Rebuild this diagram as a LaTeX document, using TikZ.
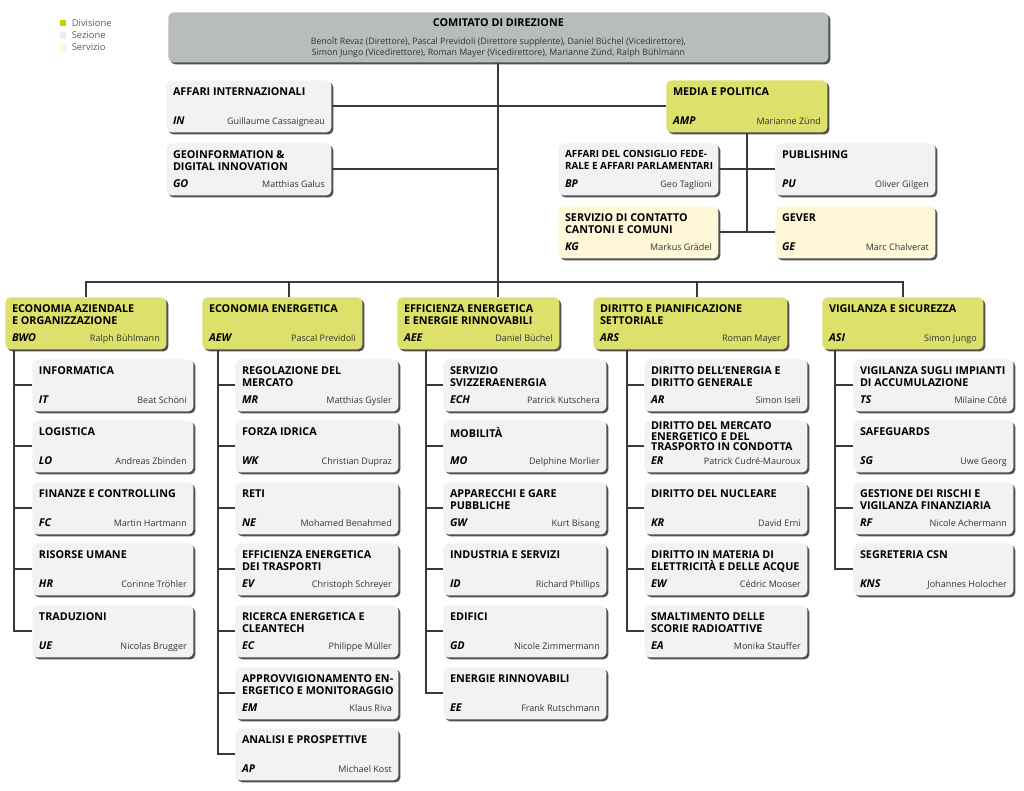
\documentclass[tikz,border=0pt]{standalone}
\usepackage{fontspec}
\setmainfont{Open Sans}
\usetikzlibrary{positioning,shadows}

\definecolor{divyellow}{HTML}{DDE06A}
\definecolor{sezgray}{HTML}{F2F2F2}
\definecolor{servcream}{HTML}{FFF7D8}
\definecolor{cddgray}{HTML}{B8BCBC}
\definecolor{linegray}{HTML}{3A3A3A}
\definecolor{shadowgray}{HTML}{505050}
\definecolor{legyellow}{HTML}{C9D300}
\definecolor{leggray}{HTML}{ECECEC}
\definecolor{legcream}{HTML}{FFF6D4}
\definecolor{legtextgray}{HTML}{5A5A5A}
\definecolor{namegray}{HTML}{333333}

\newcommand{\unittitle}{\fontsize{5.4}{5}\selectfont\bfseries}
\newcommand{\unitabbr}[1]{{\fontsize{5.4}{5}\selectfont\bfseries\itshape #1}}
\newcommand{\unitname}{\fontsize{4.5}{5}\selectfont\mdseries\upshape\color{namegray}}

% box: [top skip] name, style, x, y, text width (pt), title, abbreviation, head
\newcommand{\orgbox}[9][2pt]{%
  \node[#3] (#2) at (#4,#5) {\parbox[c][20.5pt][s]{#6pt}{\unittitle\vskip#1
    \makebox[\linewidth][l]{\parbox[t]{160pt}{\raggedright\baselineskip=6pt #7}}\par\vfill
    \unitabbr{#8}\hfill{\unitname #9}\rule[-2.5pt]{0pt}{0pt}}};}

\tikzset{
  orgunit/.style={rectangle, rounded corners=2.5pt, inner xsep=3.3pt, inner ysep=1.5pt,
    anchor=north west, general shadow={fill=shadowgray, shadow xshift=1pt, shadow yshift=-1pt}},
  divisione/.style={orgunit, fill=divyellow},
  sezione/.style={orgunit, fill=sezgray},
  servizio/.style={orgunit, fill=servcream},
  link/.style={draw=linegray, line width=1pt},
  legsq/.style={rectangle, minimum size=3.4pt, inner sep=0pt},
  legtext/.style={inner sep=0pt, font=\fontsize{4.7}{5}\selectfont, text=legtextgray},
}

\begin{document}
\begin{tikzpicture}[x=0.5pt, y=-0.5pt]
\useasboundingbox (0,0) rectangle (1024,791);

% legend
\node[legsq, fill=legyellow] (legdiv) at (63,23) {};
\node[legsq, fill=leggray, below=2.3pt of legdiv] (legsez) {};
\node[legsq, fill=legcream, below=2.3pt of legsez] (legserv) {};
\node[legtext, right=2.3pt of legdiv] (legdivtxt) {Divisione};
\node[legtext, right=2.3pt of legsez] (legseztxt) {Sezione};
\node[legtext, right=2.3pt of legserv] (legservtxt) {Servizio};

% direzione
\node[orgunit, fill=cddgray] (cdd) at (168,12) {\parbox[c][20pt][s]{323.4pt}{\centering
  \unittitle\vskip1.5pt COMITATO DI DIREZIONE\par\vfill
  \fontsize{4.4}{5.5}\selectfont\mdseries\color{namegray}
  Benoît Revaz (Direttore), Pascal Previdoli (Direttore supplente), Daniel Büchel (Vicedirettore),\\
  Simon Jungo (Vicedirettore), Roman Mayer (Vicedirettore), Marianne Zünd, Ralph Bühlmann\rule[-2pt]{0pt}{0pt}}};

\orgbox{IN}{sezione}{166}{80}{75.9}{AFFARI INTERNAZIONALI}{IN}{Guillaume Cassaigneau}
\orgbox{GO}{sezione}{166}{143}{75.9}{GEOINFORMATION \&\\DIGITAL INNOVATION}{GO}{Matthias Galus}
\orgbox{AMP}{divisione}{666}{80}{73.9}{MEDIA E POLITICA}{AMP}{Marianne Zünd}
\orgbox{BP}{sezione}{558}{143}{73.4}{\fontsize{4.95}{6}\selectfont AFFARI DEL CONSIGLIO FEDE-\\RALE E AFFARI PARLAMENTARI}{BP}{Geo Taglioni}
\orgbox{PU}{sezione}{775}{143}{73.4}{PUBLISHING}{PU}{Oliver Gilgen}
\orgbox{KG}{servizio}{558}{206}{73.4}{SERVIZIO DI CONTATTO\\CANTONI E COMUNI}{KG}{Markus Grädel}
\orgbox{GE}{servizio}{775}{206}{73.4}{GEVER}{GE}{Marc Chalverat}

% divisioni
\orgbox{BWO}{divisione}{5}{297}{73.9}{ECONOMIA AZIENDALE\\E ORGANIZZAZIONE}{BWO}{Ralph Bühlmann}
\orgbox{AEW}{divisione}{202}{297}{73.4}{ECONOMIA ENERGETICA}{AEW}{Pascal Previdoli}
\orgbox{AEE}{divisione}{397}{297}{74.4}{EFFICIENZA ENERGETICA\\E ENERGIE RINNOVABILI}{AEE}{Daniel Büchel}
\orgbox{ARS}{divisione}{593}{297}{90.4}{DIRITTO E PIANIFICAZIONE\\SETTORIALE}{ARS}{Roman Mayer}
\orgbox{ASI}{divisione}{822}{297}{73.9}{VIGILANZA E SICUREZZA}{ASI}{Simon Jungo}

% sezioni BWO
\orgbox{IT}{sezione}{32}{359}{73.9}{INFORMATICA}{IT}{Beat Schöni}
\orgbox{LO}{sezione}{32}{420}{73.9}{LOGISTICA}{LO}{Andreas Zbinden}
\orgbox{FC}{sezione}{32}{482}{73.9}{FINANZE E CONTROLLING}{FC}{Martin Hartmann}
\orgbox{HR}{sezione}{32}{543}{73.9}{RISORSE UMANE}{HR}{Corinne Tröhler}
\orgbox{UE}{sezione}{32}{605}{73.9}{TRADUZIONI}{UE}{Nicolas Brugger}

% sezioni AEW
\orgbox{MR}{sezione}{235}{359}{74.9}{REGOLAZIONE DEL\\MERCATO}{MR}{Matthias Gysler}
\orgbox{WK}{sezione}{235}{420}{74.9}{FORZA IDRICA}{WK}{Christian Dupraz}
\orgbox{NE}{sezione}{235}{482}{74.9}{RETI}{NE}{Mohamed Benahmed}
\orgbox{EV}{sezione}{235}{543}{74.9}{EFFICIENZA ENERGETICA\\DEI TRASPORTI}{EV}{Christoph Schreyer}
\orgbox{EC}{sezione}{235}{605}{74.9}{RICERCA ENERGETICA E\\CLEANTECH}{EC}{Philippe Müller}
\orgbox{EM}{sezione}{235}{667}{74.9}{APPROVVIGIONAMENTO EN-\\ERGETICO E MONITORAGGIO}{EM}{Klaus Riva}
\orgbox{AP}{sezione}{235}{728}{74.9}{ANALISI E PROSPETTIVE}{AP}{Michael Kost}

% sezioni AEE
\orgbox{ECH}{sezione}{443}{359}{74.9}{SERVIZIO\\SVIZZERAENERGIA}{ECH}{Patrick Kutschera}
\orgbox{MO}{sezione}{443}{420}{74.9}{MOBILITÀ}{MO}{Delphine Morlier}
\orgbox{GW}{sezione}{443}{482}{74.9}{APPARECCHI E GARE\\PUBBLICHE}{GW}{Kurt Bisang}
\orgbox{ID}{sezione}{443}{543}{74.9}{INDUSTRIA E SERVIZI}{ID}{Richard Phillips}
\orgbox{GD}{sezione}{443}{605}{74.9}{EDIFICI}{GD}{Nicole Zimmermann}
\orgbox{EE}{sezione}{443}{667}{74.9}{ENERGIE RINNOVABILI}{EE}{Frank Rutschmann}

% sezioni ARS
\orgbox{AR}{sezione}{644}{359}{74.9}{DIRITTO DELL’ENERGIA E\\DIRITTO GENERALE}{AR}{Simon Iseli}
\orgbox[-0.8pt]{ER}{sezione}{644}{420}{74.9}{\baselineskip=5.3pt DIRITTO DEL MERCATO\\ENERGETICO E DEL\\TRASPORTO IN CONDOTTA}{ER}{Patrick Cudré-Mauroux}
\orgbox{KR}{sezione}{644}{482}{74.9}{DIRITTO DEL NUCLEARE}{KR}{David Erni}
\orgbox{EW}{sezione}{644}{543}{74.9}{DIRITTO IN MATERIA DI\\ELETTRICITÀ E DELLE ACQUE}{EW}{Cédric Mooser}
\orgbox{EA}{sezione}{644}{605}{74.9}{SMALTIMENTO DELLE\\SCORIE RADIOATTIVE}{EA}{Monika Stauffer}

% sezioni ASI
\orgbox{TS}{sezione}{853}{359}{73.4}{VIGILANZA SUGLI IMPIANTI\\DI ACCUMULAZIONE}{TS}{Milaine Côté}
\orgbox{SG}{sezione}{853}{420}{73.4}{SAFEGUARDS}{SG}{Uwe Georg}
\orgbox{RF}{sezione}{853}{482}{73.4}{GESTIONE DEI RISCHI E\\VIGILANZA FINANZIARIA}{RF}{Nicole Achermann}
\orgbox{KNS}{sezione}{853}{543}{73.4}{SEGRETERIA CSN}{KNS}{Johannes Holocher}

% connectors
\coordinate (bus) at (498,282);
\draw[link] (cdd.south) -- (cdd.south |- AEE.north);
\draw[link] (IN.east) -- (IN.east -| cdd.south);
\draw[link] (GO.east) -- (GO.east -| cdd.south);
\draw[link] (AMP.west) -- (AMP.west -| cdd.south);
\draw[link] (AMP.south) -- (AMP.south |- KG.east);
\draw[link] (BP.east) -- (PU.west);
\draw[link] (KG.east) -- (GE.west);

\draw[link] (BWO.north) |- (bus) -| (ASI.north);
\coordinate (jAEW) at ([xshift=43.5pt]AEW.north west);
\coordinate (jARS) at ([xshift=52pt]ARS.north west);
\draw[link] (jAEW) -- (jAEW |- bus);
\draw[link] (jARS) -- (jARS |- bus);

\coordinate (sBWO) at ([xshift=4.5pt]BWO.south west);
\coordinate (sAEW) at ([xshift=8pt]AEW.south west);
\coordinate (sAEE) at ([xshift=14.5pt]AEE.south west);
\coordinate (sARS) at ([xshift=17pt]ARS.south west);
\coordinate (sASI) at ([xshift=6.5pt]ASI.south west);

\draw[link] (sBWO) |- (UE.west);
\foreach \s in {IT,LO,FC,HR} \draw[link] (\s.west) -- (\s.west -| sBWO);
\draw[link] (sAEW) |- (AP.west);
\foreach \s in {MR,WK,NE,EV,EC,EM} \draw[link] (\s.west) -- (\s.west -| sAEW);
\draw[link] (sAEE) |- (EE.west);
\foreach \s in {ECH,MO,GW,ID,GD} \draw[link] (\s.west) -- (\s.west -| sAEE);
\draw[link] (sARS) |- (EA.west);
\foreach \s in {AR,ER,KR,EW} \draw[link] (\s.west) -- (\s.west -| sARS);
\draw[link] (sASI) |- (KNS.west);
\foreach \s in {TS,SG,RF} \draw[link] (\s.west) -- (\s.west -| sASI);

\end{tikzpicture}
\end{document}
